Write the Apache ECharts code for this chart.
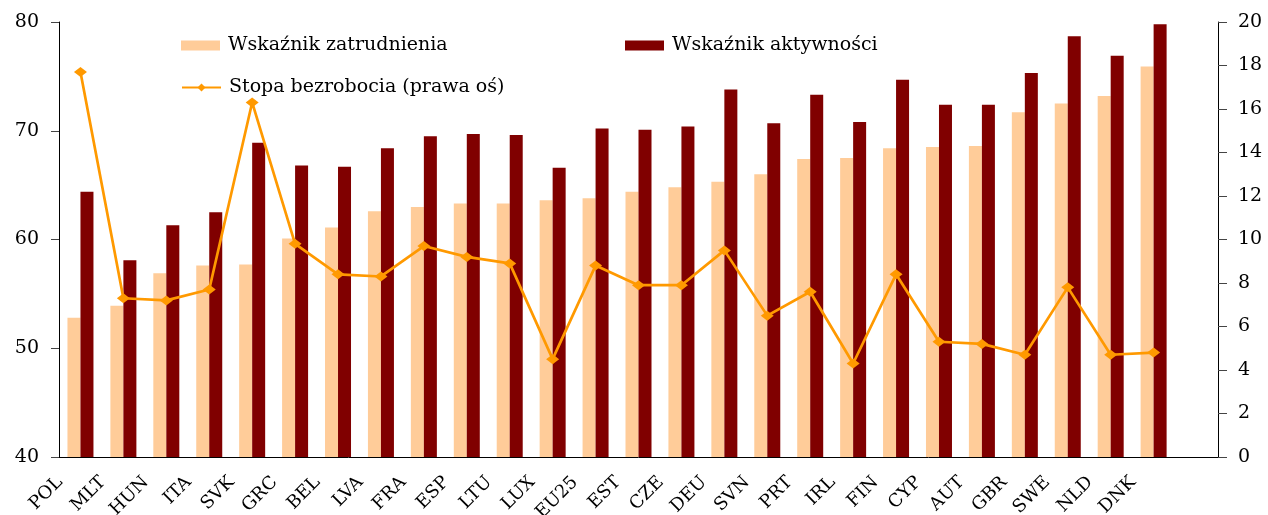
<!DOCTYPE html>
<html>
<head>
<meta charset="utf-8">
<script src="https://cdn.jsdelivr.net/npm/echarts@6/dist/echarts.min.js"></script>
<style>
    html, body { margin: 0; padding: 0; background: #fff; }
    #main { width: 1268px; height: 515px; }
</style>
</head>
<body>
<div id="main"></div>
<script>
// kraje (ostatnia pozycja osi jest pusta)
var countries = ['POL', 'MLT', 'HUN', 'ITA', 'SVK', 'GRC', 'BEL', 'LVA', 'FRA', 'ESP', 'LTU', 'LUX', 'EU25',
    'EST', 'CZE', 'DEU', 'SVN', 'PRT', 'IRL', 'FIN', 'CYP', 'AUT', 'GBR', 'SWE', 'NLD', 'DNK', ''];

var employmentRate = [52.8, 53.9, 56.9, 57.6, 57.7, 60.1, 61.1, 62.6, 63.0, 63.3, 63.3, 63.6, 63.8,
    64.4, 64.8, 65.3, 66.0, 67.4, 67.5, 68.4, 68.5, 68.6, 71.7, 72.5, 73.2, 75.9];

var activityRate = [64.4, 58.1, 61.3, 62.5, 68.9, 66.8, 66.7, 68.4, 69.5, 69.7, 69.6, 66.6, 70.2,
    70.1, 70.4, 73.8, 70.7, 73.3, 70.8, 74.7, 72.4, 72.4, 75.3, 78.7, 76.9, 79.8];

var unemploymentRate = [17.7, 7.3, 7.2, 7.7, 16.3, 9.8, 8.4, 8.3, 9.7, 9.2, 8.9, 4.5, 8.8,
    7.9, 7.9, 9.5, 6.5, 7.6, 4.3, 8.4, 5.3, 5.2, 4.7, 7.8, 4.7, 4.8];

var serif = 'DejaVu Serif';

var chart = echarts.init(document.getElementById('main'));
var option = {
    animation: false,
    textStyle: { fontFamily: serif, color: '#000' },
    grid: { left: 59, right: 50, top: 22, bottom: 58, containLabel: false, outerBoundsMode: 'none' },
    legend: [
        {
            data: ['Wskaźnik zatrudnienia'],
            left: 181, top: 36, padding: 0,
            icon: 'rect',
            itemWidth: 39, itemHeight: 10,
            textStyle: { fontFamily: serif, fontSize: 19, color: '#000', padding: [0, 0, 0, 3] }
        },
        {
            data: ['Wskaźnik aktywności'],
            left: 625, top: 36, padding: 0,
            icon: 'rect',
            itemWidth: 39, itemHeight: 10,
            textStyle: { fontFamily: serif, fontSize: 19, color: '#000', padding: [0, 0, 0, 3] }
        },
        {
            data: ['Stopa bezrobocia (prawa oś)'],
            left: 181, top: 78, padding: 0,
            itemWidth: 39, itemHeight: 10,
            textStyle: { fontFamily: serif, fontSize: 19, color: '#000', padding: [0, 0, 0, 3] }
        }
    ],
    xAxis: {
        type: 'category',
        data: countries,
        axisLine: { lineStyle: { color: '#000', width: 1 } },
        axisTick: { length: 6, lineStyle: { color: '#444' } },
        axisLabel: {
            interval: 0,
            rotate: 45,
            margin: 2,
            padding: [0, 29, 0, 0],
            fontFamily: serif,
            fontSize: 18,
            color: '#000'
        }
    },
    yAxis: [
        {
            type: 'value',
            min: 40, max: 80, interval: 10,
            axisLine: { show: true, lineStyle: { color: '#000' } },
            axisTick: { show: true, inside: false, length: 8, lineStyle: { color: '#444' } },
            splitLine: { show: false },
            axisLabel: { margin: 20, fontFamily: serif, fontSize: 19, color: '#000' }
        },
        {
            type: 'value',
            position: 'right',
            min: 0, max: 20, interval: 2,
            axisLine: { show: true, lineStyle: { color: '#000' } },
            axisTick: { show: true, length: 9, lineStyle: { color: '#444' } },
            splitLine: { show: false },
            axisLabel: { margin: 20, fontFamily: serif, fontSize: 19, color: '#000' }
        }
    ],
    series: [
        {
            name: 'Wskaźnik zatrudnienia',
            type: 'bar',
            barWidth: 13,
            barGap: '0%',
            itemStyle: { color: '#FFCC99' },
            data: employmentRate
        },
        {
            name: 'Wskaźnik aktywności',
            type: 'bar',
            barWidth: 13,
            itemStyle: { color: '#800000' },
            data: activityRate
        },
        {
            name: 'Stopa bezrobocia (prawa oś)',
            type: 'line',
            yAxisIndex: 1,
            symbol: 'diamond',
            symbolSize: [13, 10],
            lineStyle: { color: '#FF9900', width: 2.7 },
            itemStyle: { color: '#FF9900' },
            z: 5,
            data: unemploymentRate
        }
    ]
};
chart.setOption(option);
</script>
</body>
</html>
